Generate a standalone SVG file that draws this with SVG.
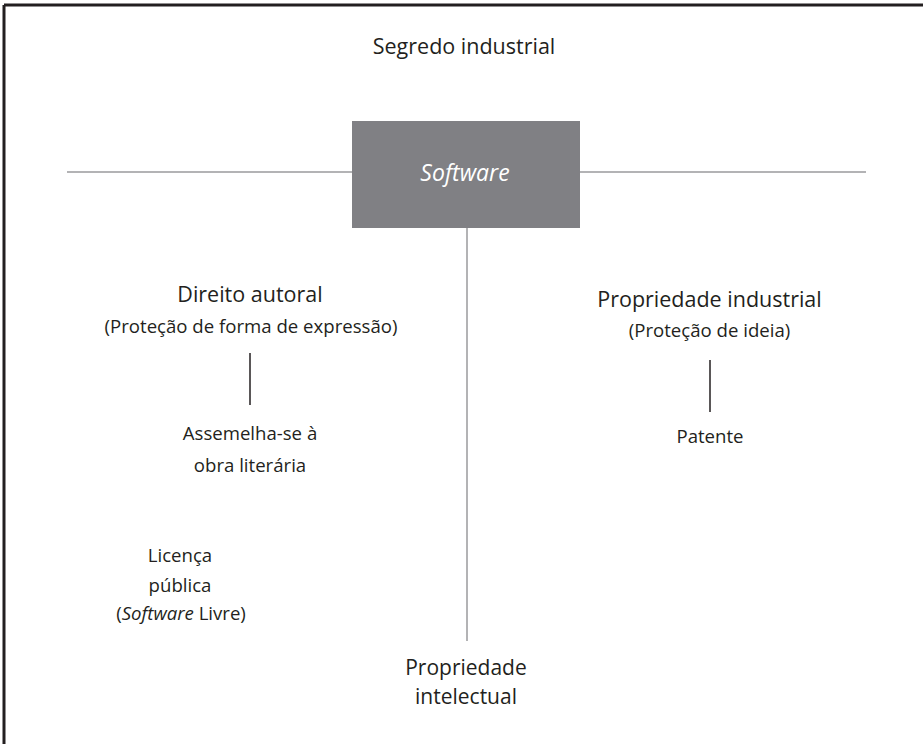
<svg xmlns="http://www.w3.org/2000/svg" width="923" height="744" viewBox="0 0 923 744">
<style>
  text { font-family: "Open Sans", "Noto Sans", "DejaVu Sans", sans-serif; fill: #231f20; text-anchor: middle; }
  .l { font-size: 21.5px; }
  .s { font-size: 18.6px; }
  .grey { stroke: #9a9a9c; stroke-width: 1.5; fill: none; }
  .dark { stroke: #231f20; stroke-width: 1.5; fill: none; }
</style>
<rect x="0" y="0" width="923" height="744" fill="#ffffff"/>
<g id="frame">
  <line x1="4" y1="5" x2="923" y2="5" stroke="#231f20" stroke-width="3"/>
  <line x1="4" y1="5" x2="4" y2="744" stroke="#231f20" stroke-width="3"/>
</g>
<g id="connectors">
  <line class="grey" x1="67" y1="172" x2="352" y2="172"/>
  <line class="grey" x1="580" y1="172" x2="866" y2="172"/>
  <line class="grey" x1="467" y1="228" x2="467" y2="641"/>
  <line class="dark" x1="250" y1="353" x2="250" y2="405"/>
  <line class="dark" x1="710" y1="360" x2="710" y2="412"/>
</g>
<g id="segredo">
  <text class="l" x="464" y="54">Segredo industrial</text>
</g>
<g id="software">
  <rect x="352" y="121" width="228" height="107" fill="#808084"/>
  <text x="465" y="181" style="fill:#ffffff;font-style:italic;font-size:23px">Software</text>
</g>
<g id="direito">
  <text class="l" x="250" y="302">Direito autoral</text>
  <text class="s" x="251" y="333">(Proteção de forma de expressão)</text>
</g>
<g id="assemelha">
  <text class="s" x="250" y="440">Assemelha-se à</text>
  <text class="s" x="250" y="472">obra literária</text>
</g>
<g id="licenca">
  <text class="s" x="180" y="562">Licença</text>
  <text class="s" x="180" y="592">pública</text>
  <text class="s" x="181" y="620">(<tspan font-style="italic">Software</tspan> Livre)</text>
</g>
<g id="propind">
  <text class="l" x="709.5" y="307">Propriedade industrial</text>
  <text class="s" x="709.5" y="337">(Proteção de ideia)</text>
</g>
<g id="patente">
  <text class="s" x="710" y="443">Patente</text>
</g>
<g id="propint">
  <text x="466" y="675" style="font-size:21px">Propriedade</text>
  <text x="466" y="704" style="font-size:21px">intelectual</text>
</g>
</svg>
